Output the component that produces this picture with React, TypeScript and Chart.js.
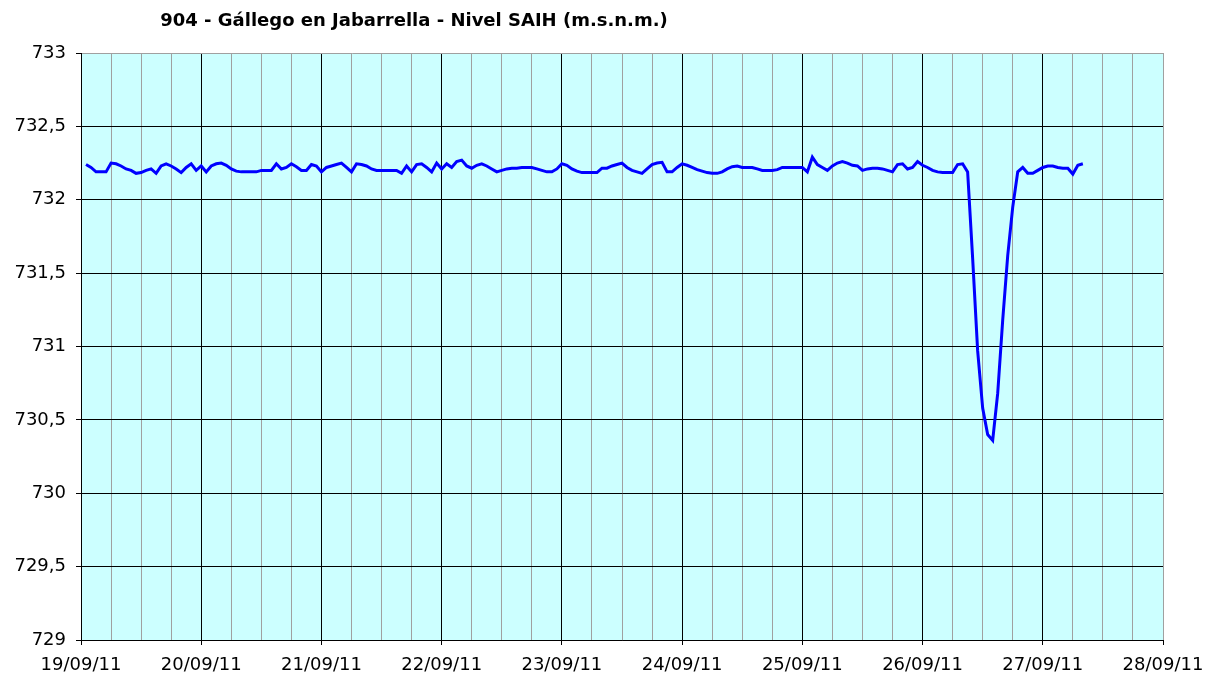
import React, { useEffect, useRef } from 'react';
import { Chart, registerables } from 'chart.js';

Chart.register(...registerables);

const TITLE = '904 - Gállego en Jabarrella - Nivel SAIH (m.s.n.m.)';

const dayLabels = [
  '19/09/11', '20/09/11', '21/09/11', '22/09/11', '23/09/11',
  '24/09/11', '25/09/11', '26/09/11', '27/09/11', '28/09/11',
];

const yTickValues = [729, 729.5, 730, 730.5, 731, 731.5, 732, 732.5, 733];
const yTickLabels = ['729', '729,5', '730', '730,5', '731', '731,5', '732', '732,5', '733'];

// hourly level readings starting at 19/09/11 01:00
const levels = [
  732.24, 732.22, 732.19, 732.19, 732.19, 732.25, 732.245, 732.23, 732.21, 732.20,
  732.18, 732.185, 732.20, 732.21, 732.18, 732.23, 732.245, 732.23, 732.21, 732.185,
  732.22, 732.245, 732.20, 732.23, 732.19, 732.23, 732.245, 732.25, 732.235, 732.21,
  732.195, 732.19, 732.19, 732.19, 732.19, 732.20, 732.20, 732.20, 732.245, 732.21,
  732.22, 732.245, 732.225, 732.20, 732.20, 732.24, 732.23, 732.19, 732.22, 732.23,
  732.24, 732.25, 732.22, 732.19, 732.245, 732.24, 732.23, 732.21, 732.20, 732.20,
  732.20, 732.20, 732.20, 732.18, 732.23, 732.19, 732.24, 732.245, 732.22, 732.19,
  732.25, 732.21, 732.245, 732.22, 732.26, 732.27, 732.23, 732.215, 732.235, 732.245,
  732.23, 732.21, 732.19, 732.20, 732.21, 732.215, 732.215, 732.22, 732.22, 732.22,
  732.21, 732.20, 732.19, 732.19, 732.21, 732.245, 732.235, 732.21, 732.195, 732.185,
  732.185, 732.185, 732.185, 732.215, 732.215, 732.23, 732.24, 732.25, 732.22, 732.20,
  732.19, 732.18, 732.21, 732.24, 732.25, 732.255, 732.19, 732.19, 732.22, 732.245,
  732.235, 732.22, 732.205, 732.195, 732.185, 732.18, 732.18, 732.19, 732.21, 732.225,
  732.23, 732.22, 732.22, 732.22, 732.21, 732.20, 732.20, 732.20, 732.205, 732.22,
  732.22, 732.22, 732.22, 732.22, 732.19, 732.29, 732.24, 732.22, 732.20, 732.23,
  732.25, 732.26, 732.25, 732.235, 732.23, 732.20, 732.21, 732.215, 732.215, 732.21,
  732.20, 732.19, 732.24, 732.245, 732.21, 732.22, 732.26, 732.235, 732.22, 732.20,
  732.19, 732.185, 732.185, 732.185, 732.24, 732.245, 732.19, 731.60, 730.97, 730.58,
  730.40, 730.36, 730.68, 731.18, 731.62, 731.95, 732.19, 732.22, 732.18, 732.18,
  732.20, 732.22, 732.23, 732.23, 732.22, 732.215, 732.215, 732.175, 732.235, 732.245,
];

const hours = levels.map((_, i) => i + 1);

const FONT = '"DejaVu Sans", Verdana, sans-serif';

export default function App() {
  const ref = useRef<HTMLCanvasElement>(null);

  useEffect(() => {
    document.body.style.margin = '0';
    const canvas = ref.current;
    if (!canvas) return;

    const bgPlugin = {
      id: 'plotBg',
      beforeDraw(chart: any) {
        const { ctx, chartArea } = chart;
        ctx.save();
        ctx.fillStyle = '#ccffff';
        ctx.fillRect(chartArea.left, chartArea.top, chartArea.right - chartArea.left, chartArea.bottom - chartArea.top);
        ctx.restore();
      },
    };

    const titlePlugin = {
      id: 'customTitle',
      afterDraw(chart: any) {
        const { ctx } = chart;
        ctx.save();
        ctx.font = `bold 18px ${FONT}`;
        ctx.fillStyle = '#000';
        ctx.textAlign = 'center';
        ctx.textBaseline = 'middle';
        ctx.fillText(TITLE, 414, 21);
        ctx.restore();
      },
    };

    const chart = new Chart(canvas, {
      type: 'line',
      data: {
        datasets: [
          {
            data: hours.map((h, i) => ({ x: h, y: levels[i] })),
            borderColor: '#0000ff',
            borderWidth: 3,
            pointRadius: 0,
            fill: false,
            tension: 0,
          },
        ],
      },
      options: {
        responsive: false,
        animation: false,
        layout: { padding: { top: 53, right: 58, left: 0, bottom: 0 } },
        plugins: {
          legend: { display: false },
          tooltip: { enabled: false },
          title: { display: false },
        },
        scales: {
          x: {
            type: 'linear',
            min: 0,
            max: 216,
            afterFit: (s: any) => { s.height = 42; },
            ticks: {
              stepSize: 6,
              autoSkip: false,
              maxRotation: 0,
              padding: 10,
              color: '#000',
              font: { family: FONT, size: 18 },
              callback: (v: any) => (Number(v) % 24 === 0 ? dayLabels[Number(v) / 24] : ''),
            },
            grid: {
              color: (c: any) => (c.tick && c.tick.value % 24 === 0 && c.tick.value !== 216 ? '#000000' : '#a0a0a0'),
              tickColor: (c: any) => (c.tick && c.tick.value % 24 === 0 ? '#000000' : 'rgba(0,0,0,0)'),
              tickLength: 5,
              lineWidth: 1,
            },
            border: { color: '#000', width: 1 },
          },
          y: {
            min: 729,
            max: 733,
            afterFit: (s: any) => { s.width = 81; },
            ticks: {
              stepSize: 0.5,
              padding: 10,
              color: '#000',
              font: { family: FONT, size: 18 },
              callback: (v: any) => {
                const idx = yTickValues.indexOf(Number(v));
                return idx >= 0 ? yTickLabels[idx] : '';
              },
            },
            grid: {
              color: (c: any) => (c.tick && c.tick.value === 733 ? '#a0a0a0' : '#000000'),
              tickColor: '#000',
              tickLength: 5,
              lineWidth: 1,
            },
            border: { color: '#000', width: 1 },
          },
        },
      },
      plugins: [bgPlugin, titlePlugin],
    });

    return () => chart.destroy();
  }, []);

  return <canvas ref={ref} width={1221} height={682} style={{ display: 'block' }} />;
}
